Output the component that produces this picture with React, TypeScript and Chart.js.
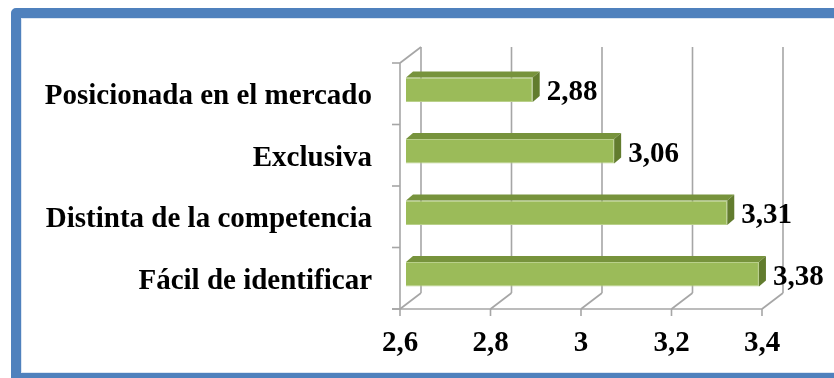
import React, { useEffect, useRef } from 'react';
import { Chart, registerables } from 'chart.js';

Chart.register(...registerables);

const categories = [
  'Posicionada en el mercado',
  'Exclusiva',
  'Distinta de la competencia',
  'Fácil de identificar',
];
const values = [2.88, 3.06, 3.31, 3.38];
const xMin = 2.6;
const xMax = 3.4;
const xStep = 0.2;
const xTickValues = [2.6, 2.8, 3.0, 3.2, 3.4];
const xTickLabels = ['2,6', '2,8', '3', '3,2', '3,4'];
const valueLabels = ['2,88', '3,06', '3,31', '3,38'];

const FONT = { family: "'Liberation Serif', 'Times New Roman', serif", size: 29, weight: 'bold' as const };
const GRID = '#A6A6A6';
const WALL = { x: 21, y: -16 };
const BAR_SHIFT = { x: 6, y: -4 };
const BAR_DEPTH = { x: 7, y: -6 };

function line(ctx: CanvasRenderingContext2D, x1: number, y1: number, x2: number, y2: number) {
  ctx.beginPath();
  ctx.moveTo(x1, y1);
  ctx.lineTo(x2, y2);
  ctx.stroke();
}

const threeD = {
  id: 'threeD',
  beforeDatasetsDraw(chart: any) {
    const { ctx, chartArea: a, scales } = chart;
    const x = scales.x;
    const y = scales.y;
    ctx.save();
    ctx.strokeStyle = GRID;
    ctx.lineWidth = 1.6;
    xTickValues.forEach((v) => {
      const px = x.getPixelForValue(v);
      line(ctx, px + WALL.x, a.top + WALL.y, px + WALL.x, a.bottom + WALL.y);
      line(ctx, px, a.bottom, px + WALL.x, a.bottom + WALL.y);
      line(ctx, px, a.bottom, px, a.bottom + 7);
    });
    line(ctx, a.left - 8, a.bottom, a.right, a.bottom);
    line(ctx, a.left, a.top, a.left, a.bottom);
    line(ctx, a.left, a.top, a.left + WALL.x, a.top + WALL.y);
    const n = categories.length;
    for (let i = 0; i <= n; i++) {
      let py;
      if (i === 0) py = a.top;
      else if (i === n) py = a.bottom;
      else py = (y.getPixelForValue(i - 1) + y.getPixelForValue(i)) / 2;
      line(ctx, a.left - 8, py, a.left, py);
    }
    ctx.restore();
    ctx.save();
    ctx.translate(BAR_SHIFT.x, BAR_SHIFT.y);
  },
  afterDatasetsDraw(chart: any) {
    const { ctx } = chart;
    const meta = chart.getDatasetMeta(0);
    meta.data.forEach((el: any, i: number) => {
      const p = el.getProps(['x', 'y', 'base', 'height'], true);
      const top = p.y - p.height / 2;
      const bottom = p.y + p.height / 2;
      // top face
      ctx.beginPath();
      ctx.moveTo(p.base, top);
      ctx.lineTo(p.base + BAR_DEPTH.x, top + BAR_DEPTH.y);
      ctx.lineTo(p.x + BAR_DEPTH.x, top + BAR_DEPTH.y);
      ctx.lineTo(p.x, top);
      ctx.closePath();
      ctx.fillStyle = '#77933C';
      ctx.fill();
      // side face
      ctx.beginPath();
      ctx.moveTo(p.x, top);
      ctx.lineTo(p.x + BAR_DEPTH.x, top + BAR_DEPTH.y);
      ctx.lineTo(p.x + BAR_DEPTH.x, bottom + BAR_DEPTH.y);
      ctx.lineTo(p.x, bottom);
      ctx.closePath();
      ctx.fillStyle = '#627C2E';
      ctx.fill();
      // value label
      ctx.fillStyle = '#000';
      ctx.font = `bold ${FONT.size}px ${FONT.family}`;
      ctx.textAlign = 'left';
      ctx.textBaseline = 'middle';
      ctx.fillText(valueLabels[i], p.x + BAR_DEPTH.x + 7, p.y + 3);
    });
    ctx.restore();
  },
};

export default function App() {
  const ref = useRef<HTMLCanvasElement | null>(null);
  useEffect(() => {
    if (!ref.current) return;
    const chart = new Chart(ref.current, {
      type: 'bar',
      data: {
        labels: categories,
        datasets: [
          {
            data: values,
            base: xMin,
            backgroundColor: '#9BBB59',
            borderColor: '#B9D08A',
            borderWidth: 1,
            barPercentage: 0.4,
            categoryPercentage: 1,
            clip: false,
          } as any,
        ],
      },
      options: {
        animation: false,
        responsive: false,
        devicePixelRatio: 1,
        indexAxis: 'y',
        layout: { padding: { top: 63, right: 72, left: 0, bottom: 0 } },
        plugins: { legend: { display: false }, tooltip: { enabled: false } },
        scales: {
          x: {
            min: xMin,
            max: xMax,
            ticks: {
              stepSize: xStep,
              font: FONT,
              color: '#000',
              padding: 17,
              maxRotation: 0,
              autoSkip: false,
              callback: (_v: any, i: number) => xTickLabels[i],
            },
            grid: { display: false, drawTicks: false },
            border: { display: false },
            afterFit: (s: any) => {
              s.height = 69;
            },
          },
          y: {
            ticks: { font: FONT, color: '#000', padding: 28, labelOffset: 3 },
            grid: { display: false, drawTicks: false },
            border: { display: false },
            afterFit: (s: any) => {
              s.width = 400;
            },
          },
        },
      } as any,
      plugins: [threeD],
    });
    return () => chart.destroy();
  }, []);

  return (
    <div style={{ position: 'absolute', left: 0, top: 0, width: 834, height: 378, overflow: 'hidden', background: '#fff' }}>
      <div
        style={{
          position: 'absolute',
          left: 11,
          top: 8,
          width: 900,
          height: 375,
          boxSizing: 'border-box',
          border: '10px solid #4F81BD',
          borderRadius: 5,
          boxShadow: 'inset 0 0 0 1px #DCE6F2',
        }}
      />
      <canvas ref={ref} width={834} height={378} style={{ position: 'absolute', left: 0, top: 0, width: 834, height: 378 }} />
    </div>
  );
}
